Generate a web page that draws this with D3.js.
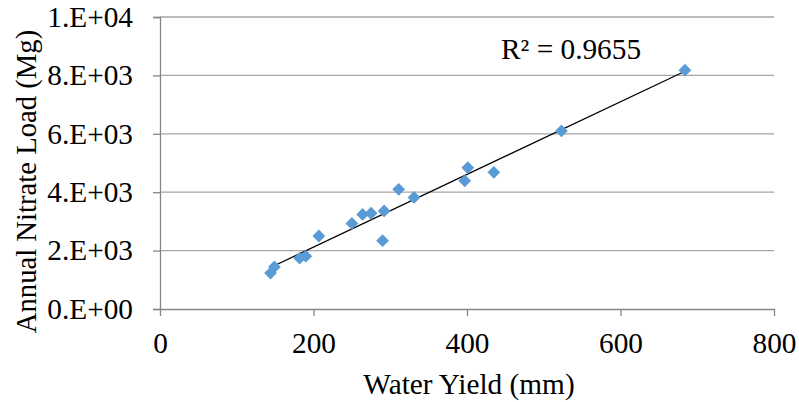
<!DOCTYPE html>
<html><head><meta charset="utf-8">
<script src="https://cdn.jsdelivr.net/npm/d3@7"></script>
<style>
html,body{margin:0;padding:0;background:#fff;}
svg{display:block;}
text{font-family:"Liberation Serif","Times New Roman",serif;fill:#000;}
</style></head>
<body>
<svg id="chart" width="799" height="402"></svg>
<script>
// Data
const waterYield = [144, 149, 182, 190, 207, 250, 264, 275, 292, 290, 311, 331, 397, 401, 435, 523, 684];
const nitrateLoad = [1230, 1440, 1740, 1810, 2500, 2930, 3240, 3280, 3360, 2340, 4100, 3820, 4390, 4840, 4680, 6100, 8180];
const xTicks = [0, 200, 400, 600, 800];
const yTicks = [0, 2000, 4000, 6000, 8000, 10000];
const xTitle = "Water Yield (mm)";
const yTitle = "Annual Nitrate Load (Mg)";
const r2Label = "R² = 0.9655";

(function () {
const svg = d3.select("#chart");
const pLeft = 160, pRight = 774, pTop = 17, pBottom = 309;
const fs = 29.3;
const x = d3.scaleLinear().domain([0, 800]).range([pLeft, pRight]);
const y = d3.scaleLinear().domain([0, 10000]).range([pBottom, pTop]);
const gridColor = "#a6a6a6";
const axisColor = "#868686";

// gridlines
svg.append("g").selectAll("line").data(yTicks.filter(d => d > 0)).join("line")
  .attr("x1", pLeft).attr("x2", pRight)
  .attr("y1", d => y(d)).attr("y2", d => y(d))
  .attr("stroke", gridColor).attr("stroke-width", 1.3);

// y axis
const yAxis = svg.append("g").attr("transform", `translate(${pLeft},0)`)
  .call(d3.axisLeft(y).tickValues(yTicks).tickSize(7).tickPadding(20)
    .tickFormat(d => { const s = d3.format(".0e")(d); const m = s.match(/^(\d)e([+-])(\d+)$/); return m[1] + ".E" + m[2] + m[3].padStart(2, "0"); }));
yAxis.attr("font-family", null).attr("font-size", null);
yAxis.select(".domain").attr("stroke", axisColor).attr("stroke-width", 1.3);
yAxis.selectAll(".tick line").attr("stroke", axisColor).attr("stroke-width", 1.3);
yAxis.selectAll("text").attr("font-size", fs).attr("fill", "#000");

// x axis
const xAxis = svg.append("g").attr("transform", `translate(0,${pBottom})`)
  .call(d3.axisBottom(x).tickValues(xTicks).tickSize(7).tickPadding(16).tickSizeOuter(0));
xAxis.attr("font-family", null).attr("font-size", null);
xAxis.select(".domain").attr("stroke", axisColor).attr("stroke-width", 1.3);
xAxis.selectAll(".tick line").attr("stroke", axisColor).attr("stroke-width", 1.3);
xAxis.selectAll("text").attr("font-size", fs).attr("fill", "#000");

// trendline (least squares)
const n = waterYield.length;
const mx = d3.mean(waterYield), my = d3.mean(nitrateLoad);
let sxy = 0, sxx = 0;
for (let i = 0; i < n; i++) { sxy += (waterYield[i] - mx) * (nitrateLoad[i] - my); sxx += (waterYield[i] - mx) ** 2; }
const slope = sxy / sxx, intercept = my - slope * mx;
const x0 = d3.min(waterYield), x1 = d3.max(waterYield);
svg.append("line")
  .attr("x1", x(x0)).attr("y1", y(intercept + slope * x0))
  .attr("x2", x(x1)).attr("y2", y(intercept + slope * x1))
  .attr("stroke", "#000").attr("stroke-width", 1.3);

// markers
const diamond = d3.symbol().type(d3.symbolSquare).size(82);
svg.append("g").selectAll("path").data(waterYield.map((v, i) => [v, nitrateLoad[i]])).join("path")
  .attr("d", diamond)
  .attr("transform", d => `translate(${x(d[0])},${y(d[1])}) rotate(45)`)
  .attr("fill", "#5b9bd5");

// R² label
svg.append("text").attr("x", 501).attr("y", 59).attr("font-size", fs).text(r2Label);

// axis titles
svg.append("text").attr("x", (pLeft + pRight) / 2 + 2).attr("y", 394).attr("text-anchor", "middle")
  .attr("font-size", fs).text(xTitle);
svg.append("text").attr("transform", `translate(36,${(30 + 333) / 2}) rotate(-90)`).attr("text-anchor", "middle")
  .attr("font-size", 28.7).text(yTitle);
})();
</script>
</body></html>
